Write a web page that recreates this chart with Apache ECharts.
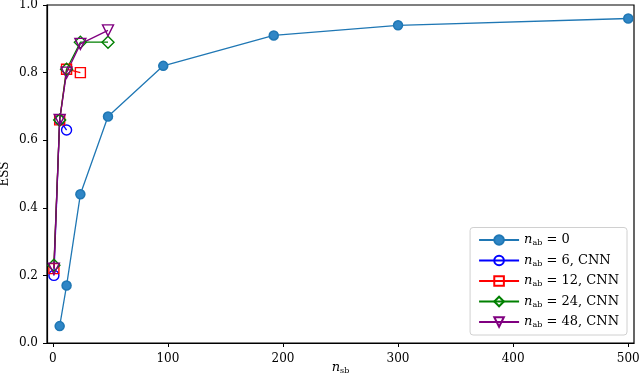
<!DOCTYPE html>
<html>
<head>
<meta charset="utf-8">
<script src="https://cdn.jsdelivr.net/npm/echarts@6/dist/echarts.min.js"></script>
<style>
  html, body { margin: 0; padding: 0; background: #fff; }
  #main { width: 640px; height: 382px; }
</style>
</head>
<body>
<div id="main"></div>
<script>
// data
var nsbBase = [6, 12, 24, 48, 96, 192, 300, 500]
var essBase = [0.05, 0.17, 0.44, 0.67, 0.82, 0.91, 0.94, 0.96]

var nsbCnn = [1, 6, 12, 24, 48]
var ess6 = [0.20, 0.66, 0.63]
var ess12 = [0.22, 0.66, 0.81, 0.80]
var ess24 = [0.23, 0.66, 0.81, 0.89, 0.89]
var ess48 = [0.22, 0.66, 0.80, 0.885, 0.925]

var xTicks = [0, 100, 200, 300, 400, 500]
var legendNames = ['0', '6, CNN', '12, CNN', '24, CNN', '48, CNN']

var FONT = 'DejaVu Serif'

function pairs(xs, ys) {
    return ys.map(function(y, i) { return [xs[i], y] })
}

function hollow(name, color, symbol, ys, extra) {
    var s = {
        name: name,
        type: 'line',
        data: pairs(nsbCnn, ys),
        symbol: symbol,
        symbolSize: 10,
        lineStyle: { color: color, width: 1.3 },
        itemStyle: { color: 'rgba(255,255,255,0)', borderColor: color, borderWidth: 1.4 },
        emphasis: { disabled: true },
        z: 3
    }
    return Object.assign(s, extra || {})
}

var chart = echarts.init(document.getElementById('main'), null, { renderer: 'canvas' })

var rich = {
    n: { fontFamily: FONT, fontStyle: 'italic', fontSize: 13, color: '#000' },
    s: { fontFamily: FONT, fontSize: 8, color: '#000', padding: [6, 0, 0, 0] },
    r: { fontFamily: FONT, fontSize: 13, color: '#000' }
}

var option = {
    animation: false,
    grid: {
        left: 47, right: 6, top: 5, bottom: 39,
        outerBoundsMode: 'none',
        containLabel: false,
        show: true, borderColor: '#000', borderWidth: 1.2
    },
    legend: {
        orient: 'vertical',
        right: 13,
        bottom: 47,
        itemWidth: 40,
        itemHeight: 12,
        itemGap: 7,
        padding: [6, 8, 6, 8],
        backgroundColor: '#fff',
        borderColor: '#d0d0d0',
        borderWidth: 1,
        borderRadius: 3,
        data: legendNames,
        formatter: function(name) {
            return '{n|n}{s|ab}{r| = ' + name + '}'
        },
        textStyle: { rich: rich }
    },
    xAxis: {
        type: 'value',
        min: -5,
        max: 505,
        name: '{n|n}{s|sb}',
        nameLocation: 'middle',
        nameGap: 18,
        nameMoveOverlap: false,
        nameTextStyle: { rich: rich },
        axisLine: { onZero: false, lineStyle: { color: '#000', width: 1.2 } },
        axisTick: { show: true, length: 4, lineStyle: { color: '#000' }, customValues: xTicks },
        axisLabel: { fontFamily: FONT, fontSize: 12, color: '#000', customValues: xTicks, margin: 10 },
        splitLine: { show: false }
    },
    yAxis: {
        type: 'value',
        min: 0,
        max: 1,
        interval: 0.2,
        name: 'ESS',
        nameLocation: 'middle',
        nameGap: 36,
        nameMoveOverlap: false,
        nameTextStyle: { fontFamily: FONT, fontSize: 12, color: '#000' },
        axisLine: { show: true, onZero: false, lineStyle: { color: '#000', width: 1.2 } },
        axisTick: { show: true, length: 4, lineStyle: { color: '#000' } },
        axisLabel: {
            fontFamily: FONT, fontSize: 12, color: '#000', margin: 9,
            formatter: function(v) { return v.toFixed(1) }
        },
        splitLine: { show: false }
    },
    series: [
        {
            name: legendNames[0],
            type: 'line',
            data: pairs(nsbBase, essBase),
            symbol: 'circle',
            symbolSize: 9,
            lineStyle: { color: '#1f77b4', width: 1.3 },
            itemStyle: { color: '#2f86c6', borderColor: '#1f77b4', borderWidth: 1.5 },
            emphasis: { disabled: true },
            z: 2
        },
        hollow(legendNames[1], '#0000ff', 'circle', ess6),
        hollow(legendNames[2], '#ff0000', 'rect', ess12),
        hollow(legendNames[3], '#008000', 'diamond', ess24, { symbolSize: 12 }),
        hollow(legendNames[4], '#800080', 'triangle', ess48, { symbolRotate: 180, symbolSize: 11 })
    ]
}

chart.setOption(option)
</script>
</body>
</html>
